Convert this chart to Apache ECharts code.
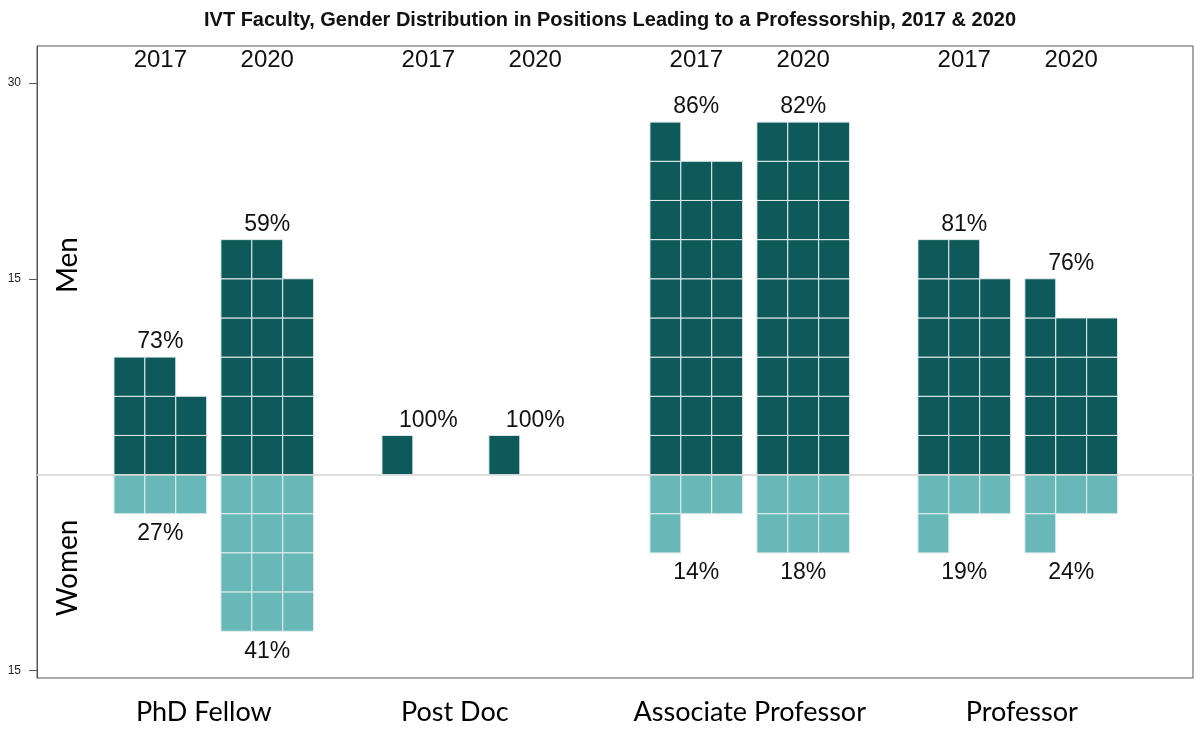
<!DOCTYPE html>
<html>
<head>
<meta charset="utf-8">
<script src="https://cdn.jsdelivr.net/npm/echarts@6/dist/echarts.min.js"></script>
<style>
  html, body { margin: 0; background: #fff; }
  #chart { width: 1194px; height: 729px; }
</style>
</head>
<body>
<div id="chart"></div>
<script>
// head counts per position
var categories = ['PhD Fellow', 'Post Doc', 'Associate Professor', 'Professor'];
var years = ['2017', '2020'];
var men2017 = [8, 1, 25, 17];
var men2020 = [17, 1, 27, 13];
var women2017 = [3, 0, 4, 4];
var women2020 = [12, 0, 6, 4];
var yTicks = [-15, 15, 30];

var men = [men2017, men2020];
var women = [women2017, women2020];

// layout (x in cell widths, y in persons)
var COLS = 3, ROW_H = 3;
var firstBlock = 2.49, groupStep = 8.67, yearStep = 3.46;
var catShift = [-10, -27, 0, 4];
var menColor = '#0e5a5a', womenColor = '#69b8b8';
var sans = '"Liberation Sans", Arial, sans-serif';
var calib = 'Lato, "Open Sans", sans-serif';

function blockStart(g, y) { return firstBlock + g * groupStep + y * yearStep; }
function colHeight(n, c) { return Math.floor(n / COLS) + (c < n % COLS ? 1 : 0); }

var cells = [];   // x0, y0, x1, y1, sex
var blocks = [];  // center, menTop, womenBottom, men%, women%, year index
categories.forEach(function (cat, g) {
  years.forEach(function (yr, yi) {
    var m = men[yi][g], w = women[yi][g], x0 = blockStart(g, yi);
    for (var c = 0; c < COLS; c++) {
      for (var k = 0; k < colHeight(m, c); k++) cells.push([x0 + c, k * ROW_H, x0 + c + 1, (k + 1) * ROW_H, 0]);
      for (var j = 0; j < colHeight(w, c); j++) cells.push([x0 + c, -(j + 1) * ROW_H, x0 + c + 1, -j * ROW_H, 1]);
    }
    blocks.push([x0 + COLS / 2, colHeight(m, 0) * ROW_H, -colHeight(w, 0) * ROW_H,
      Math.round(100 * m / (m + w)), w ? Math.round(100 * w / (m + w)) : -1, yi]);
  });
});
var groupCenters = categories.map(function (c, g) {
  return [(blockStart(g, 0) + blockStart(g, 1) + COLS) / 2, g];
});

var myChart = echarts.init(document.getElementById('chart'));

var option = {
  animation: false,
  title: {
    text: 'IVT Faculty, Gender Distribution in Positions Leading to a Professorship, 2017 & 2020',
    left: 605, top: 5, textAlign: 'center',
    textStyle: { fontFamily: sans, fontSize: 20, fontWeight: 'bold', color: '#111' }
  },
  grid: { left: 37, right: 1, top: 46, bottom: 51, show: true, borderColor: '#555', borderWidth: 1 },
  xAxis: { type: 'value', min: 0, max: 37.4, show: false },
  yAxis: {
    type: 'value', min: -15.58, max: 32.83,
    splitLine: { show: false },
    axisLine: { show: true, lineStyle: { color: '#555' } },
    axisTick: { show: true, length: 8, customValues: yTicks, lineStyle: { color: '#555' } },
    axisLabel: {
      customValues: yTicks, margin: 16, fontSize: 12, color: '#222', fontFamily: sans,
      formatter: function (v) { return Math.abs(v); }
    }
  },
  graphic: [
    { type: 'text', x: 68, y: 265, rotation: Math.PI / 2,
      style: { text: 'Men', font: '28px ' + calib, fill: '#000', textAlign: 'center', textVerticalAlign: 'middle' } },
    { type: 'text', x: 68, y: 568, rotation: Math.PI / 2,
      style: { text: 'Women', font: '28px ' + calib, fill: '#000', textAlign: 'center', textVerticalAlign: 'middle' } }
  ],
  series: [
    {
      type: 'custom',
      data: cells,
      encode: { x: [0, 2], y: [1, 3] },
      renderItem: function (params, api) {
        var p0 = api.coord([api.value(0), api.value(3)]);
        var p1 = api.coord([api.value(2), api.value(1)]);
        return {
          type: 'rect',
          shape: { x: p0[0], y: p0[1], width: p1[0] - p0[0], height: p1[1] - p0[1] },
          style: { fill: api.value(4) ? womenColor : menColor, stroke: '#e4eded', lineWidth: 1 }
        };
      },
      markLine: {
        silent: true, symbol: 'none', label: { show: false },
        lineStyle: { color: '#d6d6d6', width: 1.5, type: 'solid' },
        data: [{ yAxis: 0 }]
      }
    },
    {
      type: 'custom',
      data: blocks,
      encode: { x: 0, y: 1 },
      renderItem: function (params, api) {
        var cx = api.value(0);
        var top = api.coord([cx, api.value(1)]);
        var bot = api.coord([cx, api.value(2)]);
        var head = api.coord([cx, 32.83]);
        var kids = [
          { type: 'text', x: top[0], y: head[1] + 14,
            style: { text: years[api.value(5)], font: '24px ' + sans, fill: '#111', textAlign: 'center', textVerticalAlign: 'middle' } },
          { type: 'text', x: top[0], y: top[1] - 15,
            style: { text: api.value(3) + '%', font: '23px ' + sans, fill: '#111', textAlign: 'center', textVerticalAlign: 'middle' } }
        ];
        if (api.value(4) >= 0) {
          kids.push({ type: 'text', x: bot[0], y: bot[1] + 20,
            style: { text: api.value(4) + '%', font: '23px ' + sans, fill: '#111', textAlign: 'center', textVerticalAlign: 'middle' } });
        }
        return { type: 'group', children: kids };
      }
    },
    {
      type: 'custom',
      data: groupCenters,
      encode: { x: 0 },
      renderItem: function (params, api) {
        var g = api.value(1);
        var p = api.coord([api.value(0), -15.58]);
        return {
          type: 'text', x: p[0] + catShift[g], y: p[1] + 34,
          style: { text: categories[g], font: '27px ' + calib, fill: '#000', textAlign: 'center', textVerticalAlign: 'middle' }
        };
      }
    }
  ]
};

myChart.setOption(option);
</script>
</body>
</html>
